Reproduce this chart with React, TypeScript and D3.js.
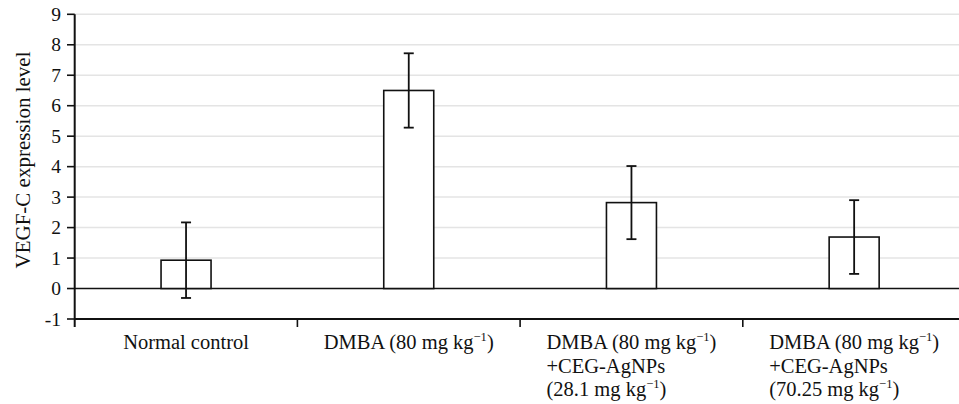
import React, { useEffect, useRef } from "react";
import * as d3 from "d3";

const categories = ["c1", "c2", "c3", "c4"];
const labels: string[][] = [
  ["Normal control"],
  ["DMBA (80 mg kg^{−1})"],
  ["DMBA (80 mg kg^{−1})", "+CEG-AgNPs", "(28.1 mg kg^{−1})"],
  ["DMBA (80 mg kg^{−1})", "+CEG-AgNPs", "(70.25 mg kg^{−1})"],
];
const values = [0.93, 6.5, 2.82, 1.69];
const errors = [1.24, 1.22, 1.2, 1.21];
const yTicks = [-1, 0, 1, 2, 3, 4, 5, 6, 7, 8, 9];
const yTitle = "VEGF-C expression level";

const W = 959;
const H = 404;
const FONT = "'Liberation Serif', 'Times New Roman', serif";

export default function App() {
  const ref = useRef<SVGSVGElement>(null);
  useEffect(() => {
    const svg = d3.select(ref.current);
    svg.selectAll("*").remove();
    const left = 74.7;
    const x = d3.scaleBand<string>().domain(categories).range([left, 965.5]).padding(0);
    const y = d3.scaleLinear().domain([-1, 9]).range([319, 14.3]);
    const ink = "#111";

    // gridlines
    svg.append("g").selectAll("line").data(yTicks.filter((t) => t > 0)).join("line")
      .attr("x1", left).attr("x2", W).attr("y1", (d) => y(d)).attr("y2", (d) => y(d))
      .attr("stroke", "#e4e4e4").attr("stroke-width", 1.5);

    // zero line
    svg.append("line").attr("x1", left).attr("x2", W).attr("y1", y(0)).attr("y2", y(0))
      .attr("stroke", ink).attr("stroke-width", 1.6);

    // bars
    const bw = 50;
    const g = svg.append("g");
    categories.forEach((c, i) => {
      const cx = x(c)! + x.bandwidth() / 2;
      g.append("rect").attr("x", cx - bw / 2).attr("y", y(values[i]))
        .attr("width", bw).attr("height", y(0) - y(values[i]))
        .attr("fill", "white").attr("stroke", ink).attr("stroke-width", 1.6);
      const hi = y(values[i] + errors[i]);
      const lo = y(values[i] - errors[i]);
      g.append("line").attr("x1", cx).attr("x2", cx).attr("y1", hi).attr("y2", lo)
        .attr("stroke", ink).attr("stroke-width", 1.8);
      [hi, lo].forEach((yy) =>
        g.append("line").attr("x1", cx - 5).attr("x2", cx + 5).attr("y1", yy).attr("y2", yy)
          .attr("stroke", ink).attr("stroke-width", 1.8));
    });

    // axes
    svg.append("line").attr("x1", left).attr("x2", W).attr("y1", y(-1)).attr("y2", y(-1))
      .attr("stroke", ink).attr("stroke-width", 2);
    svg.append("line").attr("x1", left).attr("x2", left).attr("y1", y(9)).attr("y2", 327)
      .attr("stroke", ink).attr("stroke-width", 2);
    svg.append("g").selectAll("line").data(yTicks).join("line")
      .attr("x1", 67).attr("x2", left).attr("y1", (d) => y(d)).attr("y2", (d) => y(d))
      .attr("stroke", ink).attr("stroke-width", 1.6);
    svg.append("g").selectAll("text").data(yTicks).join("text")
      .attr("x", 61).attr("y", (d) => y(d)).attr("dy", "0.34em")
      .attr("text-anchor", "end").attr("font-family", FONT).attr("font-size", 19.5)
      .attr("fill", ink).text((d) => String(d));
    svg.append("g").selectAll("line").data(categories.slice(1)).join("line")
      .attr("x1", (d) => x(d)!).attr("x2", (d) => x(d)!).attr("y1", y(-1)).attr("y2", 327)
      .attr("stroke", ink).attr("stroke-width", 1.6);

    // y title
    svg.append("text").attr("transform", "translate(29.5,160) rotate(-90)")
      .attr("text-anchor", "middle").attr("font-family", FONT).attr("font-size", 21)
      .attr("fill", ink).text(yTitle);

    // category labels
    categories.forEach((c, i) => {
      const cx = x(c)! + x.bandwidth() / 2;
      const lines = labels[i];
      const texts: SVGTextElement[] = [];
      lines.forEach((ln, j) => {
        const t = svg.append("text").attr("y", 349 + j * 23.5)
          .attr("font-family", FONT).attr("font-size", 20.5).attr("fill", ink);
        const parts = ln.split(/\^\{|\}/);
        let raised = false;
        parts.forEach((p, k) => {
          if (!p) return;
          if (k % 2 === 1) {
            t.append("tspan").attr("font-size", 12.5).attr("dy", -8).text(p);
            raised = true;
          } else {
            const sp = t.append("tspan").text(p);
            if (raised) { sp.attr("dy", 8); raised = false; }
          }
        });
        texts.push(t.node()!);
      });
      const w0 = texts[0].getComputedTextLength();
      const lx = cx - w0 / 2;
      texts.forEach((t) => d3.select(t).attr("x", lx));
    });
  }, []);
  return (
    <svg ref={ref} width={W} height={H}
      style={{ position: "absolute", left: 0, top: 0, background: "white" }} />
  );
}
